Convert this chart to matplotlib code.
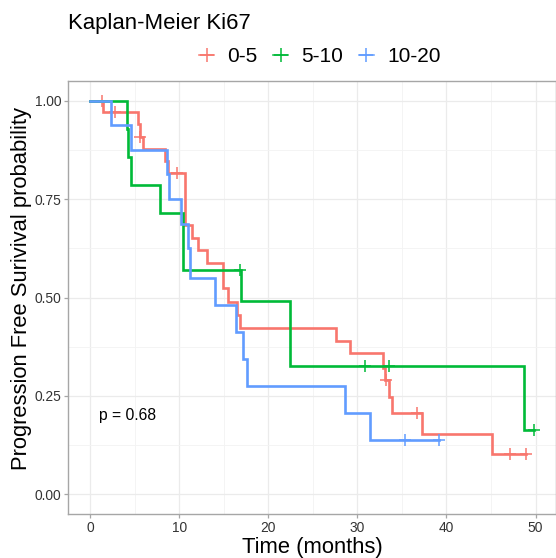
import matplotlib
matplotlib.use("Agg")
import matplotlib.pyplot as plt
from matplotlib.lines import Line2D
import numpy as np

plt.rcParams['font.family'] = ['Liberation Sans', 'DejaVu Sans']

# ---- data ----
groups = ["0-5", "5-10", "10-20"]
colors = ["#F8766D", "#00BA38", "#619CFF"]

red_times = [0, 1.45, 5.39, 5.57, 5.95, 8.39, 8.68, 10.64, 11.4, 12.14, 13.08, 14.88,
             15.52, 16.46, 16.84, 27.6, 29.2, 32.86, 33.05, 33.54, 33.9, 37.3, 45.07]
red_surv = [1.0, 0.970, 0.940, 0.909, 0.877, 0.847, 0.816, 0.684, 0.652, 0.621, 0.588, 0.523,
            0.488, 0.455, 0.423, 0.389, 0.358, 0.322, 0.290, 0.248, 0.207, 0.154, 0.102]
red_censor = [1.35, 2.76, 5.6, 9.7, 33.25, 36.7, 47.1, 48.93]
red_end = 48.93

green_times = [0, 4.07, 4.26, 4.56, 7.83, 10.45, 16.95, 22.39, 48.67]
green_surv = [1.0, 0.929, 0.857, 0.786, 0.714, 0.571, 0.490, 0.327, 0.163]
green_censor = [16.84, 30.8, 33.6, 49.8]
green_end = 49.8

blue_times = [0, 2.31, 4.6, 8.6, 8.88, 10.19, 10.94, 11.2, 14.0, 16.33, 17.14, 17.59, 28.58, 31.36]
blue_surv = [1.0, 0.9375, 0.875, 0.8125, 0.75, 0.6875, 0.625, 0.549, 0.481, 0.413, 0.343,
             0.275, 0.206, 0.137]
blue_censor = [35.34, 39.2]
blue_end = 39.2

pval_text = "p = 0.68"

series = [
    (red_times, red_surv, red_censor, red_end),
    (green_times, green_surv, green_censor, green_end),
    (blue_times, blue_surv, blue_censor, blue_end),
]

W, H = 556, 558
fig = plt.figure(figsize=(W / 100, H / 100), dpi=100)
ax = fig.add_axes([68 / W, 1 - 514 / H, (W - 68) / W, (514 - 81) / H])

# grid
ax.set_xlim(-2.5, 52.3)
ax.set_ylim(-0.05, 1.05)
ax.set_xticks([0, 10, 20, 30, 40, 50])
ax.set_xticks([5, 15, 25, 35, 45], minor=True)
ax.set_yticks([0, 0.25, 0.5, 0.75, 1.0])
ax.set_yticklabels(["0.00", "0.25", "0.50", "0.75", "1.00"])
ax.set_yticks([0.125, 0.375, 0.625, 0.875], minor=True)
ax.grid(which='major', color='#ebebeb', lw=0.9)
ax.grid(which='minor', color='#f3f3f3', lw=0.6)
ax.set_axisbelow(True)

spine_c = '#a6a6a6'
for s in ax.spines.values():
    s.set_color(spine_c)
    s.set_linewidth(1.0)
ax.tick_params(which='major', length=2.7, width=0.9, color=spine_c,
               labelsize=9.9, labelcolor='#333333')
ax.tick_params(axis='x', pad=2.4)
ax.tick_params(axis='y', pad=2.0)
ax.tick_params(which='minor', length=0)

for (t, s, cens, end), c in zip(series, colors):
    tt = list(t) + [end]
    ss = list(s) + [s[-1]]
    ax.step(tt, ss, where='post', color=c, lw=1.9, solid_joinstyle='miter')
    t_arr = np.array(t)
    cs = [s[np.searchsorted(t_arr, ct, side='right') - 1] for ct in cens]
    ax.plot(cens, cs, ls='none', marker='+', ms=8.6, mew=1.1, color=c)

ax.text(1.0, 0.2, pval_text, fontsize=11.3, va='center', ha='left', color='black')

# title, axis labels
fig.text(68 / W, 1 - 29 / H, "Kaplan-Meier Ki67", fontsize=15.9, ha='left', va='baseline')
fig.text(312 / W, 1 - 553 / H, "Time (months)", fontsize=15.8, ha='center', va='baseline')
fig.text(21.5 / W, 1 - 288 / H, "Progression Free Surivival probability", fontsize=15.8,
         rotation=90, ha='center', va='center')

handles = [Line2D([0], [0], color=c, lw=1.1, marker='+', ms=10, mew=1.1) for c in colors]
fig.legend(handles, groups, loc='center', bbox_to_anchor=(320 / W, 1 - 57 / H),
           ncol=3, frameon=False, fontsize=15, handlelength=0.7, handletextpad=0.65,
           columnspacing=0.75, borderpad=0, borderaxespad=0)

fig.savefig("out.png", dpi=100)
